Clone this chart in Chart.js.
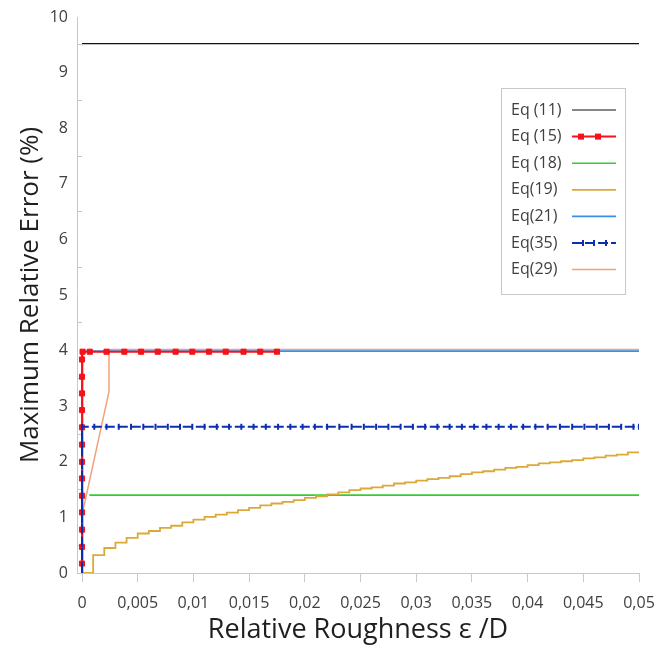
<!DOCTYPE html>
<html>
<head>
<meta charset="utf-8">
<script src="https://cdn.jsdelivr.net/npm/chart.js@4.4.0/dist/chart.umd.min.js"></script>
<style>
  html, body { margin: 0; padding: 0; background: #fff; }
  canvas { display: block; }
</style>
</head>
<body>
<canvas id="chart" width="658" height="653"></canvas>
<script>
// axis ticks
const xTicks = [0, 0.005, 0.01, 0.015, 0.02, 0.025, 0.03, 0.035, 0.04, 0.045, 0.05];
const xLabels = ['0', '0,005', '0,01', '0,015', '0,02', '0,025', '0,03', '0,035', '0,04', '0,045', '0,05'];
const yTicks = [0, 0.5, 1, 1.5, 2, 2.5, 3, 3.5, 4, 4.5, 5, 5.5, 6, 6.5, 7, 7.5, 8, 8.5, 9, 9.5, 10];

// series
const eq11X = [0, 0.05];
const eq11Y = [9.52, 9.52];

const eq15X = [0, 0, 0, 0, 0, 0, 0, 0, 0, 0, 0, 0, 0, 0.00005,
  0.0007, 0.0022, 0.0038, 0.0053, 0.0068, 0.0084, 0.0099, 0.0114, 0.0129, 0.0145, 0.016, 0.0175];
const eq15Y = [0.17, 0.47, 0.78, 1.09, 1.39, 1.7, 2.0, 2.31, 2.62, 2.93, 3.23, 3.53, 3.84, 3.98,
  3.98, 3.98, 3.98, 3.98, 3.98, 3.98, 3.98, 3.98, 3.98, 3.98, 3.98, 3.98];

const eq18X = [0.00066, 0.05];
const eq18Y = [1.4, 1.4];

const eq19X = [0, 0.001, 0.002, 0.003, 0.004, 0.005, 0.006, 0.007, 0.008, 0.009,
  0.01, 0.011, 0.012, 0.013, 0.014, 0.015, 0.016, 0.017, 0.018, 0.019,
  0.02, 0.021, 0.022, 0.023, 0.024, 0.025, 0.026, 0.027, 0.028, 0.029,
  0.03, 0.031, 0.032, 0.033, 0.034, 0.035, 0.036, 0.037, 0.038, 0.039,
  0.04, 0.041, 0.042, 0.043, 0.044, 0.045, 0.046, 0.047, 0.048, 0.049, 0.05];
const eq19Y = [0, 0.32, 0.45, 0.545, 0.63, 0.71, 0.755, 0.81, 0.85, 0.91,
  0.96, 1.01, 1.05, 1.085, 1.13, 1.17, 1.215, 1.25, 1.28, 1.31,
  1.35, 1.38, 1.415, 1.45, 1.49, 1.52, 1.54, 1.57, 1.61, 1.63,
  1.66, 1.69, 1.71, 1.74, 1.78, 1.81, 1.83, 1.86, 1.89, 1.91,
  1.94, 1.97, 1.99, 2.01, 2.03, 2.06, 2.08, 2.11, 2.13, 2.17, 2.17];

const eq21X = [0, 0.00005, 0.05];
const eq21Y = [0, 3.99, 3.99];

const eq35X = [0, 0, 0, 0, 0, 0, 0, 0, 0, 0, 0, 0, 0, 0, 0, 0,
  0.0011, 0.0022, 0.0033, 0.0044, 0.0055, 0.0066, 0.0077, 0.0088, 0.0099, 0.011,
  0.0121, 0.0132, 0.0143, 0.0154, 0.0165, 0.0176, 0.0187, 0.0198, 0.0209, 0.022,
  0.0231, 0.0242, 0.0253, 0.0264, 0.0275, 0.0286, 0.0297, 0.0308, 0.0319, 0.033,
  0.0341, 0.0352, 0.0363, 0.0374, 0.0385, 0.0396, 0.0407, 0.0418, 0.0429, 0.044,
  0.0451, 0.0462, 0.0473, 0.0484, 0.0495, 0.05];
const eq35Y = [0, 0.15, 0.4, 0.6, 0.95, 1.13, 1.25, 1.37, 1.55, 1.64, 1.79, 1.94, 2.15, 2.33, 2.51, 2.63,
  2.63, 2.63, 2.63, 2.63, 2.63, 2.63, 2.63, 2.63, 2.63, 2.63,
  2.63, 2.63, 2.63, 2.63, 2.63, 2.63, 2.63, 2.63, 2.63, 2.63,
  2.63, 2.63, 2.63, 2.63, 2.63, 2.63, 2.63, 2.63, 2.63, 2.63,
  2.63, 2.63, 2.63, 2.63, 2.63, 2.63, 2.63, 2.63, 2.63, 2.63,
  2.63, 2.63, 2.63, 2.63, 2.63, 2.63];

const eq29X = [0, 0.00003, 0.00242, 0.00242, 0.05];
const eq29Y = [0, 1.07, 3.26, 4.02, 4.02];

const pts = (xs, ys) => xs.map((x, i) => ({ x, y: ys[i] }));

const AXIS = '#c8c8c8';
const TEXT = '#404040';

// legend drawn inside the plot, text first then the line sample
const boxLegend = {
  id: 'boxLegend',
  afterDraw(chart) {
    const ctx = chart.ctx;
    const bx = 501, by = 88, bw = 124, bh = 206;
    ctx.save();
    ctx.fillStyle = '#fff';
    ctx.fillRect(bx, by, bw, bh);
    ctx.strokeStyle = AXIS;
    ctx.lineWidth = 1;
    ctx.strokeRect(bx + 0.5, by + 0.5, bw, bh);
    ctx.font = '16px "Open Sans"';
    ctx.textBaseline = 'middle';
    chart.data.datasets.forEach((ds, i) => {
      const y = 110 + i * 26.6;
      ctx.fillStyle = TEXT;
      ctx.fillText(ds.label, 511, y);
      ctx.strokeStyle = ds.borderColor;
      ctx.lineWidth = ds.borderWidth;
      ctx.setLineDash(ds.borderDash || []);
      ctx.beginPath();
      ctx.moveTo(572, y);
      ctx.lineTo(616, y);
      ctx.stroke();
      ctx.setLineDash([]);
      if (ds.pointStyle === 'rect') {
        ctx.fillStyle = ds.borderColor;
        [581, 598].forEach(mx => ctx.fillRect(mx - 3, y - 3, 6, 6));
      } else if (ds.pointStyle === 'line') {
        ctx.lineWidth = 2;
        [583, 594, 606].forEach(mx => {
          ctx.beginPath();
          ctx.moveTo(mx, y - 3);
          ctx.lineTo(mx, y + 3);
          ctx.stroke();
        });
      }
    });
    ctx.restore();
  }
};

const line = (label, data, color, width, order, extra) => Object.assign({
  label, data, borderColor: color, backgroundColor: color, borderWidth: width,
  pointRadius: 0, fill: false, tension: 0, order
}, extra || {});

new Chart(document.getElementById('chart'), {
  type: 'line',
  data: {
    datasets: [
      line('Eq (11)', pts(eq11X, eq11Y), '#111111', 1.2, 6),
      line('Eq (15)', pts(eq15X, eq15Y), '#f5121b', 2, 1,
        { pointStyle: 'rect', pointRadius: 3.6, pointBorderWidth: 1 }),
      line('Eq (18)', pts(eq18X, eq18Y), '#33cc33', 1.6, 5),
      line('Eq(19)', pts(eq19X, eq19Y), '#dba93a', 1.8, 4, { stepped: true }),
      line('Eq(21)', pts(eq21X, eq21Y), '#3b8ee8', 1.6, 2),
      line('Eq(35)', pts(eq35X, eq35Y), '#0b2fb0', 2, 0,
        { borderDash: [10, 3], pointStyle: 'line', rotation: 90, pointRadius: 3, pointBorderWidth: 2 }),
      line('Eq(29)', pts(eq29X, eq29Y), '#f0a27a', 1.5, 3)
    ]
  },
  options: {
    responsive: false,
    animation: false,
    devicePixelRatio: 1,
    layout: { padding: { left: 0, right: 19, top: 17, bottom: 0 } },
    plugins: { legend: { display: false }, tooltip: { enabled: false } },
    scales: {
      x: {
        type: 'linear',
        min: -0.00045,
        max: 0.05,
        afterBuildTicks: s => { s.ticks = xTicks.map(v => ({ value: v })); },
        afterFit: s => { s.height = 80; s.paddingLeft = 0; s.paddingRight = 0; },
        grid: { drawOnChartArea: false, drawTicks: true, tickLength: 9, color: AXIS },
        border: { color: AXIS, width: 1 },
        ticks: {
          autoSkip: false, maxRotation: 0, padding: 12, color: TEXT,
          font: { family: 'Open Sans', size: 16 },
          callback: (v, i) => xLabels[i]
        },
        title: {
          display: true, text: 'Relative Roughness ε /D', color: '#1f1f1f',
          font: { family: 'Open Sans', size: 27 }, padding: { top: 0, bottom: 6 }
        }
      },
      y: {
        type: 'linear',
        min: 0,
        max: 10,
        afterBuildTicks: s => { s.ticks = yTicks.map(v => ({ value: v })); },
        afterFit: s => { s.width = 77; s.paddingTop = 0; s.paddingBottom = 0; },
        grid: {
          drawOnChartArea: false, drawTicks: true, tickLength: -5,
          tickColor: c => (c.tick && c.tick.value % 1 !== 0) ? AXIS : 'rgba(0,0,0,0)'
        },
        border: { color: AXIS, width: 1 },
        ticks: {
          autoSkip: false, padding: 14, color: TEXT,
          font: { family: 'Open Sans', size: 16 },
          callback: v => (v % 1 === 0 ? String(v) : '')
        },
        title: {
          display: true, text: 'Maximum Relative Error (%)', color: '#1f1f1f',
          font: { family: 'Open Sans', size: 26 }, padding: { top: 15, bottom: 0 }
        }
      }
    }
  },
  plugins: [boxLegend]
});
</script>
</body>
</html>
